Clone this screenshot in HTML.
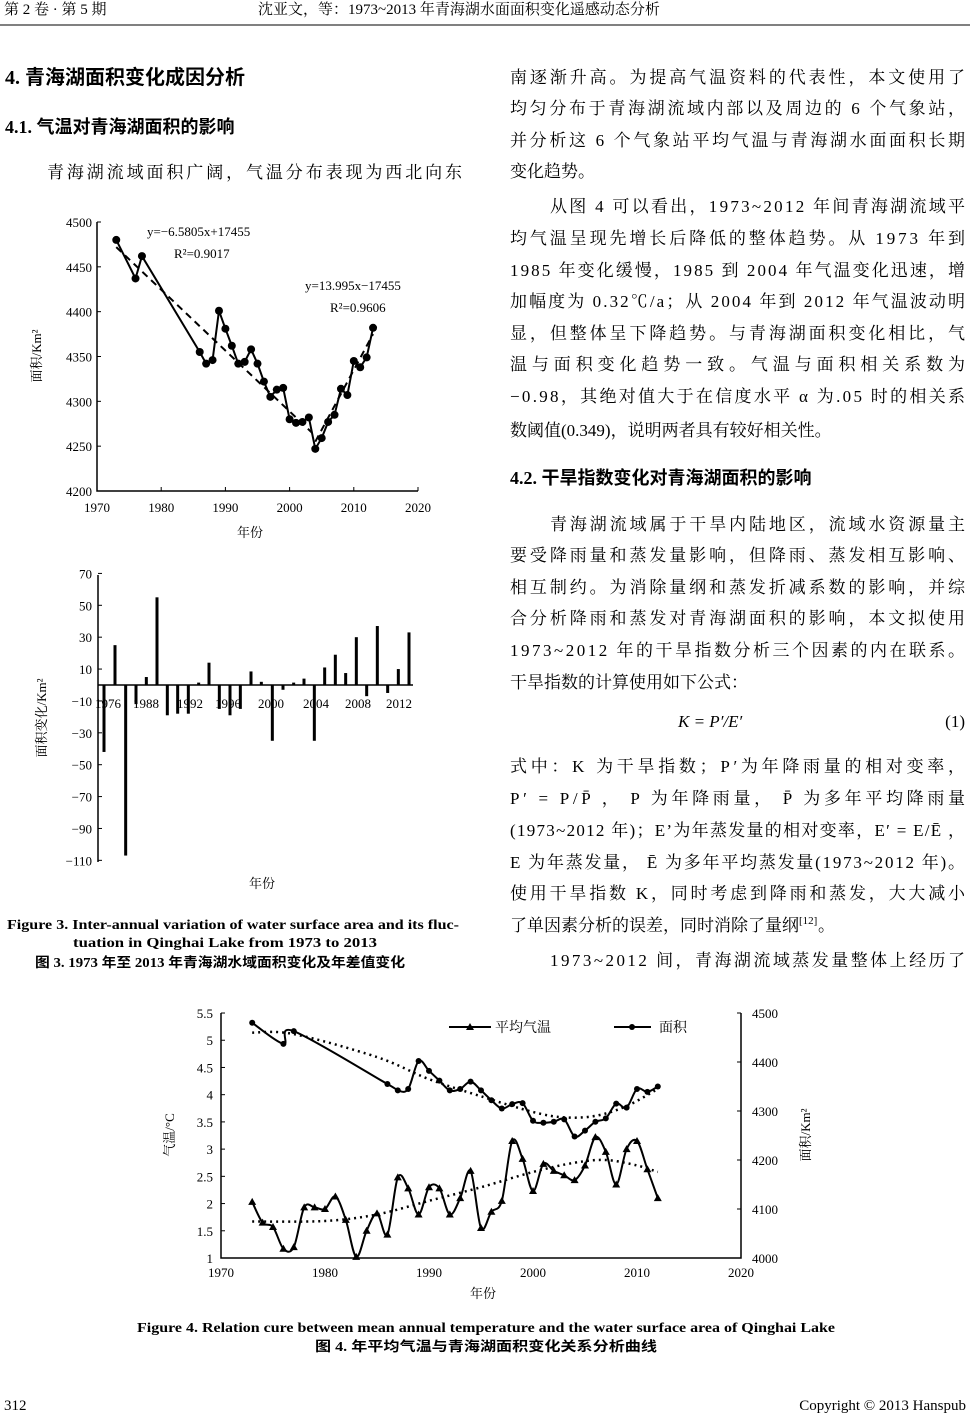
<!DOCTYPE html>
<html><head><meta charset="utf-8"><style>
html,body{margin:0;padding:0;background:#fff;}
svg{display:block;}
.s{font-family:"Liberation Serif","Noto Serif CJK SC","Noto Sans CJK SC",serif;}
.h{font-family:"Liberation Serif","Noto Sans CJK SC",sans-serif;font-weight:bold;}
</style></head><body>
<svg id="pg" width="970" height="1414" xmlns="http://www.w3.org/2000/svg">
<g class="s" fill="#000" font-size="15">
<text x="4" y="14">第 2 卷 · 第 5 期</text>
<text x="258" y="14">沈亚文，等：1973~2013 年青海湖水面面积变化遥感动态分析</text>
</g>
<line x1="0" y1="25" x2="970" y2="25" stroke="#000" stroke-width="1"/>
<g class="h" fill="#000">
<text x="5" y="84" font-size="20">4.  青海湖面积变化成因分析</text>
<text x="5" y="133" font-size="18">4.1.  气温对青海湖面积的影响</text>
<text x="510" y="484" font-size="18">4.2.  干旱指数变化对青海湖面积的影响</text>
</g>
<g class="s" fill="#000" font-size="17" id="body">
<text x="47" y="178" textLength="415" lengthAdjust="spacing">青海湖流域面积广阔，气温分布表现为西北向东</text>
</g>
<g class="h" fill="#000" font-size="13.5">
<text x="7" y="929" textLength="452" lengthAdjust="spacingAndGlyphs">Figure 3. Inter-annual variation of water surface area and its fluc-</text>
<text x="73" y="947" textLength="304" lengthAdjust="spacingAndGlyphs">tuation in Qinghai Lake from 1973 to 2013</text>
<text x="35" y="967" textLength="370" lengthAdjust="spacingAndGlyphs">图 3. 1973 年至 2013 年青海湖水域面积变化及年差值变化</text>
<text x="137" y="1332" textLength="698" lengthAdjust="spacingAndGlyphs">Figure 4. Relation cure between mean annual temperature and the water surface area of Qinghai Lake</text>
<text x="315" y="1351" textLength="342" lengthAdjust="spacingAndGlyphs">图 4.  年平均气温与青海湖面积变化关系分析曲线</text>
</g>
<g class="s" fill="#000" font-size="15">
<text x="4" y="1410">312</text>
<text x="966" y="1410" text-anchor="end">Copyright © 2013 Hanspub</text>
</g>
<g id="c1"></g><g id="c2"></g><g id="c3"></g>
</svg>
<script>
var NS="http://www.w3.org/2000/svg";
function el(p,t,a,txt){var e=document.createElementNS(NS,t);for(var k in a)e.setAttribute(k,a[k]);if(txt!=null)e.textContent=txt;document.getElementById(p).appendChild(e);return e;}
var L=[
["南逐渐升高。为提高气温资料的代表性，本文使用了",0,83,1],
["均匀分布于青海湖流域内部以及周边的 6 个气象站，",0,114,1],
["并分析这 6 个气象站平均气温与青海湖水面面积长期",0,146,1],
["变化趋势。",0,177,0],
["从图 4 可以看出，1973~2012 年间青海湖流域平",40,212,1],
["均气温呈现先增长后降低的整体趋势。从 1973 年到",0,244,1],
["1985 年变化缓慢，1985 到 2004 年气温变化迅速，增",0,276,1],
["加幅度为 0.32℃/a；从 2004 年到 2012 年气温波动明",0,307,1],
["显，但整体呈下降趋势。与青海湖面积变化相比，气",0,339,1],
["温与面积变化趋势一致。气温与面积相关系数为",0,370,1],
["−0.98，其绝对值大于在信度水平 α 为.05 时的相关系",0,402,1],
["数阈值(0.349)，说明两者具有较好相关性。",0,436,0],
["青海湖流域属于干旱内陆地区，流域水资源量主",40,530,1],
["要受降雨量和蒸发量影响，但降雨、蒸发相互影响、",0,561,1],
["相互制约。为消除量纲和蒸发折减系数的影响，并综",0,593,1],
["合分析降雨和蒸发对青海湖面积的影响，本文拟使用",0,624,1],
["1973~2012 年的干旱指数分析三个因素的内在联系。",0,656,1],
["干旱指数的计算使用如下公式：",0,688,0],
["式中：K  为干旱指数；P′为年降雨量的相对变率，",0,772,1],
[" P′ = P/P̄ ， P  为年降雨量， P̄ 为多年平均降雨量",0,804,1],
["(1973~2012 年)；E’为年蒸发量的相对变率，E′ = E/Ē ，",0,836,1],
["E 为年蒸发量， Ē 为多年平均蒸发量(1973~2012 年)。",0,868,1],
["使用干旱指数 K，同时考虑到降雨和蒸发，大大减小",0,899,1],
["了单因素分析的误差，同时消除了量纲",0,931,0],
["1973~2012 间，青海湖流域蒸发量整体上经历了",40,966,1]];
L.forEach(function(l){var a={x:510+l[1],y:l[2]};if(l[3]){a.textLength=455-l[1];a.lengthAdjust="spacing";}el("body","text",a,l[0]);});
el("body","text",{x:799,y:924,"font-size":11},"[12]");
el("body","text",{x:818,y:931},"。");
el("body","text",{x:678,y:727,"font-style":"italic"},"K = P′/E′");
el("body","text",{x:965,y:727,"text-anchor":"end"},"(1)");

var area=[[1973,4480],[1976,4437],[1977,4462],[1986,4355],[1987,4342],[1988,4346],[1989,4401],[1990,4381],[1991,4362],[1992,4342],[1993,4344],[1994,4358],[1995,4342],[1996,4322],[1997,4305],[1998,4313],[1999,4315],[2000,4280],[2001,4276],[2002,4277],[2003,4282],[2004,4247],[2005,4259],[2006,4277],[2007,4285],[2008,4314],[2009,4307],[2010,4345],[2011,4338],[2012,4349],[2013,4382]];
function X1(y){return 97+(y-1970)*6.42;} function Y1(v){return 491-(v-4200)*0.8967;}
el("c1","path",{d:"M97,222V491H418",stroke:"#000","stroke-width":1.5,fill:"none"});
for(var v=4200;v<=4500;v+=50){el("c1","line",{x1:97,x2:101,y1:Y1(v),y2:Y1(v),stroke:"#000"});el("c1","text",{x:92,y:Y1(v)+5,"text-anchor":"end","font-size":13,class:"s"},v);}
for(var y=1970;y<=2020;y+=10){el("c1","line",{x1:X1(y),x2:X1(y),y1:491,y2:487,stroke:"#000"});el("c1","text",{x:X1(y),y:512,"text-anchor":"middle","font-size":13,class:"s"},y);}
el("c1","line",{x1:X1(1973),y1:Y1(4472),x2:X1(2003.5),y2:Y1(4265),stroke:"#000","stroke-width":2,"stroke-dasharray":"7,5"});
el("c1","line",{x1:X1(2004),y1:Y1(4255),x2:X1(2013),y2:Y1(4375),stroke:"#000","stroke-width":2,"stroke-dasharray":"7,5"});
el("c1","polyline",{points:area.map(function(p){return X1(p[0])+","+Y1(p[1]);}).join(" "),fill:"none",stroke:"#000","stroke-width":2});
area.forEach(function(p){el("c1","circle",{cx:X1(p[0]),cy:Y1(p[1]),r:4,fill:"#000"});});
[["y=−6.5805x+17455",147,236],["R²=0.9017",174,258],["y=13.995x−17455",305,290],["R²=0.9606",330,312]].forEach(function(t){el("c1","text",{x:t[1],y:t[2],"font-size":13,class:"s"},t[0]);});
el("c1","text",{x:250,y:537,"text-anchor":"middle","font-size":13,class:"s"},"年份");
el("c1","text",{transform:"translate(41,356) rotate(-90)","text-anchor":"middle","font-size":13,class:"s"},"面积/Km²");

var bars=[[222,-42],[255,25],[287,-107],[318,-12],[349,5],[381,55],[412,-19],[443,-18],[475,-18],[506,1.5],[537,14],[568,-15],[600,-19],[631,-15],[663,8.5],[694,2],[727,-35],[759,-3],[791,1.5],[822,4],[853,-35],[884,11],[916,19],[947,7.5],[979,30],[1010,-7],[1042,37],[1073,-5],[1105,10],[1137,33]];
function Y2(v){return 685-v*1.594;}
el("c2","path",{d:"M98,575V862",stroke:"#000","stroke-width":1.5,fill:"none"});
el("c2","line",{x1:98,x2:413,y1:685,y2:685,stroke:"#000","stroke-width":1.5});
for(var v=70;v>=-110;v-=20){el("c2","line",{x1:98,x2:102,y1:Y2(v),y2:Y2(v),stroke:"#000"});el("c2","text",{x:92,y:Y2(v)+5,"text-anchor":"end","font-size":13,class:"s"},(v<0?"−":"")+Math.abs(v));}
bars.forEach(function(b){var x=30+b[0]/3,y0=Y2(0),y1=Y2(b[1]);el("c2","rect",{x:x-1.5,y:Math.min(y0,y1),width:3,height:Math.abs(y1-y0),fill:"#000"});});
[[1976,108],[1988,146],[1992,190],[1996,228],[2000,271],[2004,316],[2008,358],[2012,399]].forEach(function(t){el("c2","text",{x:t[1],y:708,"text-anchor":"middle","font-size":13,class:"s"},t[0]);});
el("c2","text",{x:262,y:888,"text-anchor":"middle","font-size":13,class:"s"},"年份");
el("c2","text",{transform:"translate(46,718) rotate(-90)","text-anchor":"middle","font-size":13,class:"s"},"面积变化/Km²");

function X3(y){return 221+(y-1970)*10.4;} function T3(v){return 1258-(v-1)*54.44;} function A3(v){return 1258-(v-4000)*0.49;}
el("c3","path",{d:"M221,1013V1258H741V1013",stroke:"#000","stroke-width":1.5,fill:"none"});
for(var i=0;i<=9;i++){var v=1+i*0.5;el("c3","line",{x1:221,x2:225,y1:T3(v),y2:T3(v),stroke:"#000"});el("c3","text",{x:213,y:T3(v)+5,"text-anchor":"end","font-size":13,class:"s"},v);}
for(var v=4000;v<=4500;v+=100){el("c3","line",{x1:737,x2:741,y1:A3(v),y2:A3(v),stroke:"#000"});el("c3","text",{x:752,y:A3(v)+5,"font-size":13,class:"s"},v);}
for(var y=1970;y<=2020;y+=10){el("c3","text",{x:X3(y),y:1277,"text-anchor":"middle","font-size":13,class:"s"},y);}
var temp=[2.03,1.65,1.57,1.17,1.2,1.93,1.93,1.9,2.13,1.7,1.02,1.5,1.82,1.43,2.48,2.28,1.8,2.3,2.28,1.8,2.1,2.6,1.55,1.85,2.05,3.15,2.82,2.23,2.73,2.6,2.52,2.43,2.7,3.22,2.95,2.35,3.0,3.15,2.63,2.1];
var tp=temp.map(function(v,i){return [X3(1973+i),T3(v)];});
function smooth(p){var d="M"+p[0][0]+","+p[0][1];for(var i=0;i<p.length-1;i++){var p0=p[i-1]||p[i],p1=p[i],p2=p[i+1],p3=p[i+2]||p2;var c1x=p1[0]+(p2[0]-p0[0])/6,c1y=p1[1]+(p2[1]-p0[1])/6,c2x=p2[0]-(p3[0]-p1[0])/6,c2y=p2[1]-(p3[1]-p1[1])/6;d+="C"+c1x+","+c1y+" "+c2x+","+c2y+" "+p2[0]+","+p2[1];}return d;}
el("c3","path",{d:smooth(tp),fill:"none",stroke:"#000","stroke-width":2});
tp.forEach(function(p){el("c3","path",{d:"M"+p[0]+","+(p[1]-4)+"l4,7h-8z",fill:"#000"});});
var a3=[[1973,4480],[1976,4437],[1977,4463],[1986,4355],[1987,4342],[1988,4345],[1989,4402],[1990,4382],[1991,4362],[1992,4342],[1993,4345],[1994,4360],[1995,4342],[1996,4322],[1997,4305],[1998,4314],[1999,4316],[2000,4280],[2001,4276],[2002,4278],[2003,4283],[2004,4248],[2005,4260],[2006,4278],[2007,4285],[2008,4315],[2009,4307],[2010,4345],[2011,4339],[2012,4350]];
var ap=a3.map(function(p){return [X3(p[0]),A3(p[1])];});
el("c3","path",{d:smooth(ap),fill:"none",stroke:"#000","stroke-width":2});
ap.forEach(function(p){el("c3","circle",{cx:p[0],cy:p[1],r:3,fill:"#000"});});
var ta=[[1973,4460],[1977,4457],[1985,4410],[1990,4365],[1995,4330],[2000,4298],[2003,4287],[2006,4290],[2009,4310],[2012,4345]].map(function(p){return [X3(p[0]),A3(p[1])];});
el("c3","path",{d:smooth(ta),fill:"none",stroke:"#000","stroke-width":2.5,"stroke-dasharray":"2,4"});
var tt=[[1973,1.67],[1980,1.68],[1985,1.8],[1990,2.05],[1995,2.3],[2000,2.58],[2004,2.75],[2007,2.8],[2010,2.7],[2012,2.58]].map(function(p){return [X3(p[0]),T3(p[1])];});
el("c3","path",{d:smooth(tt),fill:"none",stroke:"#000","stroke-width":2.5,"stroke-dasharray":"2,4"});
el("c3","line",{x1:449,x2:491,y1:1027,y2:1027,stroke:"#000","stroke-width":2});
el("c3","path",{d:"M470,1023l4,7h-8z",fill:"#000"});
el("c3","text",{x:495,y:1032,"font-size":14,class:"s"},"平均气温");
el("c3","line",{x1:614,x2:651,y1:1027,y2:1027,stroke:"#000","stroke-width":2});
el("c3","circle",{cx:632,cy:1027,r:3,fill:"#000"});
el("c3","text",{x:659,y:1032,"font-size":14,class:"s"},"面积");
el("c3","text",{x:483,y:1298,"text-anchor":"middle","font-size":13,class:"s"},"年份");
el("c3","text",{transform:"translate(174,1135) rotate(-90)","text-anchor":"middle","font-size":13,class:"s"},"气温/°C");
el("c3","text",{transform:"translate(810,1135) rotate(-90)","text-anchor":"middle","font-size":13,class:"s"},"面积/Km²");
</script>
</body></html>
